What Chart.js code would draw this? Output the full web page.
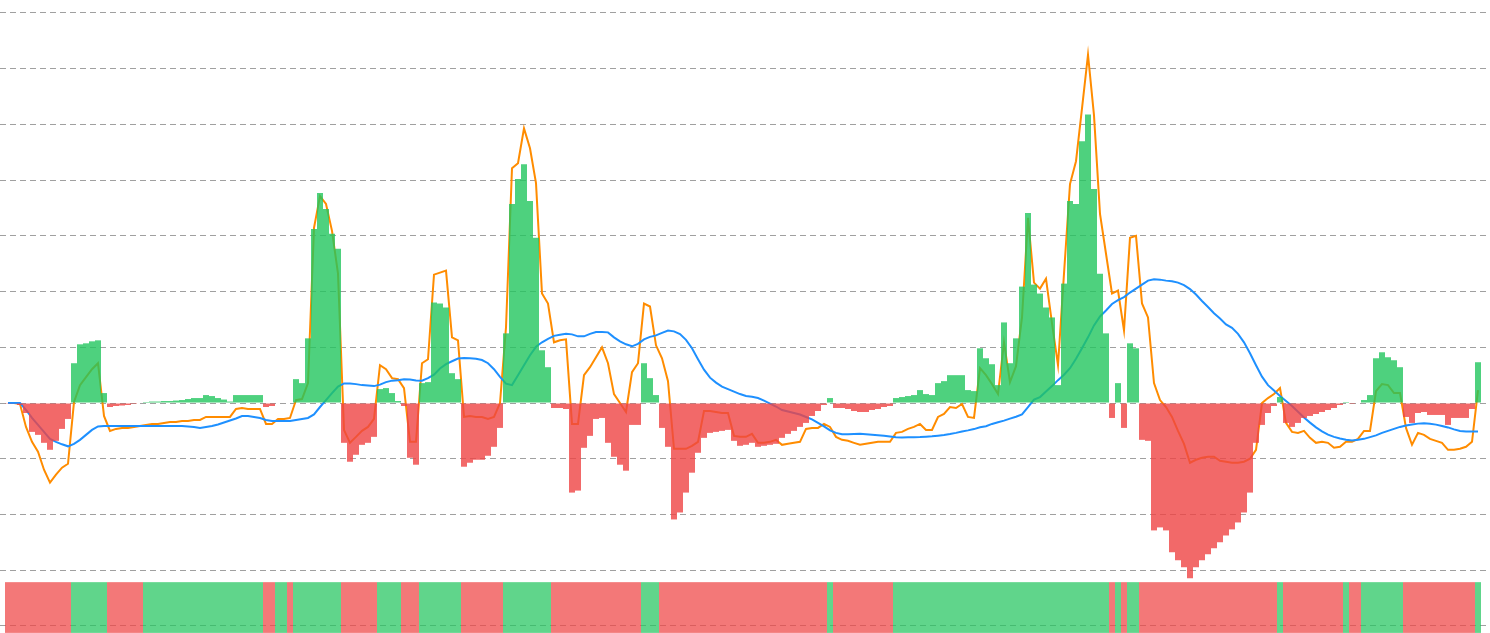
<!DOCTYPE html>
<html>
<head>
<meta charset="utf-8">
<title>MACD</title>
<script src="https://cdn.jsdelivr.net/npm/chart.js@4.4.1/dist/chart.umd.min.js"></script>
<style>
  html, body { margin: 0; padding: 0; background: #fff; }
  #wrap { width: 1490px; height: 633px; position: relative; }
</style>
</head>
<body>
<div id="wrap"><canvas id="chart"></canvas></div>
<script>
(function () {
  'use strict';

  // histogram (macd - signal), one value per bar
  const hist = [
    -0.2, -0.3, -2, -10, -29, -32, -40, -47, -38, -26,
    -16, 40, 59, 60, 62, 63, 10, -4, -3, -2.5,
    -2, -1, -0.5, 1, 1.5, 1.5, 2, 2, 2.5, 3,
    4, 5, 5, 8, 7, 5, 3.5, 1.5, 8, 8,
    8, 8, 8, -4, -3, 0.5, 0.5, -0.5, 24, 20,
    65, 175, 211, 195, 170, 155, -40, -59, -52, -42,
    -40, -34, 14, 15, 10, 2, -3, -55, -62, 20,
    21, 101, 100, 96, 30, 24, -64, -60, -57, -57,
    -53, -44, -25, 70, 200, 225, 240, 203, 166, 53,
    36, -5, -5, -6, -90, -88, -45, -33, -16, -15,
    -40, -54, -62, -68, -22, -22, 40, 25, 8, -25,
    -44, -117, -110, -90, -70, -50, -35, -30, -29, -28,
    -27, -38, -43, -42, -40, -44, -43, -42, -41, -35,
    -31, -28, -24, -20, -13, -8, -2, 5, -5, -5,
    -6, -8, -9, -9, -7, -6, -4, -3, 5, 6,
    7, 8, 13, 9, 8, 20, 22, 28, 28, 28,
    13, 12, 55, 45, 39, 18, 81, 40, 65, 117,
    191, 119, 110, 96, 86, 18, 120, 203, 200, 263,
    290, 215, 130, 70, -15, 20, -25, 60, 55, -37,
    -38, -128, -125, -128, -150, -158, -165, -176, -165, -158,
    -152, -146, -140, -133, -127, -120, -110, -90, -40, -22,
    -10, -3, 6, -20, -24, -20, -15, -13, -11, -9,
    -7, -5, -2, 1, -1, -0.5, 3, 8, 45, 51,
    46, 43, 36, -14, -20, -10, -9, -12, -12, -12,
    -22, -15, -15, -15, -6, 41
  ];

  // fast line (orange)
  const macd = [
    0, 0, -1, -24, -39, -49, -67, -80, -72, -65,
    -61, 1, 18, 26, 34, 40, -13, -28, -26, -25,
    -25, -24, -23, -22, -21, -21, -20, -19, -19, -18,
    -18, -17, -17, -14, -14, -14, -14, -14, -6, -5,
    -6, -6, -6, -21, -21, -16, -16, -15, 3, 4,
    20, 176, 208, 200, 173, 130, -27, -40, -34, -28,
    -24, -16, 38, 34, 25, 24, 15, -39, -39, 40,
    44, 129, 131, 133, 66, 63, -14, -13, -14, -14,
    -16, -14, 0, 76, 236, 241, 276, 256, 221, 110,
    100, 61, 63, 64, -21, -21, 28, 36, 46, 56,
    40, 9, 0, -9, 31, 40, 100, 97, 58, 45,
    22, -46, -46, -46, -43, -39, -8, -8, -9, -10,
    -10, -33, -34, -34, -31, -40, -40, -39, -37, -42,
    -41, -40, -39, -26, -25, -25, -21, -24, -34, -37,
    -38, -40, -42, -41, -40, -39, -39, -39, -30, -29,
    -26, -24, -21, -27, -27, -14, -11, -4, -5, -1,
    -14, -15, 35, 28, 19, 9, 61, 21, 37, 86,
    186, 121, 115, 125, 80, 38, 130, 220, 243, 296,
    350, 289, 190, 150, 110, 113, 73, 166, 168, 100,
    86, 20, 3, -4, -14, -28, -41, -60, -57, -55,
    -54, -54, -58, -59, -60, -60, -59, -56, -47, 0,
    5, 9, 15, -20, -29, -30, -28, -35, -40, -39,
    -40, -45, -44, -39, -39, -36, -28, -28, 12, 19,
    18, 10, 10, -25, -42, -30, -32, -36, -38, -40,
    -47, -47, -46, -44, -39, 13
  ];

  // slow line (blue)
  const signal = [
    0, 0, 0, -7, -15, -22, -29, -36, -39, -41.5,
    -43.5, -41, -37, -32, -27, -23.5, -23, -23, -23, -23,
    -23, -23, -23, -23, -23, -23, -23, -23, -23, -23,
    -23.5, -24, -25, -24, -23, -21.5, -19.5, -17.5, -15.5, -13,
    -13, -14, -15, -17, -18, -18, -18, -18, -17, -16,
    -15, -11.5, -4, 3, 10, 16.5, 19.7, 19.5, 19, 18,
    17.5, 17, 18.5, 21, 22.5, 23, 24, 23.7, 22.7, 22.5,
    25, 28.5, 34.7, 39, 42, 44.7, 45.3, 45, 44.5, 43.2,
    40, 34, 26.3, 19.5, 18, 28, 38, 48, 56.5, 61,
    64.5, 67.5, 68.7, 69.5, 69, 67, 67, 69.5, 71.3, 71.3,
    71, 66, 62, 59, 57, 59.5, 64, 66.5, 68, 70.5,
    72.8, 72, 69.3, 63.5, 55, 44, 33.5, 25.5, 20.5, 16.5,
    14, 11.5, 9, 7, 6.2, 5, 2.5, -0.5, -3.5, -7,
    -8.5, -10, -11.5, -14, -16.5, -20, -23.5, -27.5, -30, -31.3,
    -31.3, -31.2, -31, -31.3, -31.8, -32.3, -33, -33.7, -34.3, -34.7,
    -34.5, -34.3, -34.2, -33.8, -33.4, -32.8, -32.1, -31.2, -30, -28.6,
    -27.5, -26.2, -24.4, -23.3, -21, -19.4, -17.7, -15.7, -13.8, -11.5,
    -4, 3.5, 6, 11.5, 17, 23, 28.5, 35, 44.5, 55,
    66, 78, 87, 93, 99.5, 103.3, 106.5, 111, 115, 119,
    123, 124.4, 124, 123, 122.3, 121, 118.5, 114.5, 109, 102.5,
    96.5, 90.2, 85, 79, 75.5, 69.5, 61, 50, 38, 26.5,
    18, 12.5, 7, 2, -3, -8.7, -14.5, -19.7, -24.5, -28.5,
    -31.8, -34, -35.6, -37, -37.7, -37, -36, -34.3, -32.5, -30,
    -28, -26, -24, -22.5, -21.5, -20.7, -20.3, -20.8, -21.7, -23,
    -24.5, -26.5, -28, -28.7, -28.7, -28.5
  ];

  // horizontal grid values and the value band of the trend strip
  const gridTicks = [-224, -168, -112, -56, 0, 56, 112, 168, 224, 280, 336, 392];
  const stripBand = [-231, -180];

  const UP = 'rgba(34, 197, 94, 0.8)';
  const DOWN = 'rgba(239, 68, 68, 0.8)';
  const STRIP_UP = 'rgba(34, 197, 94, 0.72)';
  const STRIP_DOWN = 'rgba(239, 68, 68, 0.72)';

  function points(arr) {
    return arr.map(function (v, i) { return { x: i, y: v }; });
  }

  const barColors = hist.map(function (v) { return v >= 0 ? UP : DOWN; });
  const stripColors = hist.map(function (v) { return v >= 0 ? STRIP_UP : STRIP_DOWN; });

  // 6px per bar, so bar edges land on whole pixels
  const xMin = -8 / 6;
  const xMax = xMin + 1490 / 6;

  new Chart(document.getElementById('chart'), {
    type: 'bar',
    data: {
      datasets: [
        {
          label: 'trend',
          data: hist.map(function (v, i) { return { x: i, y: stripBand }; }),
          backgroundColor: stripColors,
          borderWidth: 0,
          inflateAmount: 0,
          grouped: false,
          barPercentage: 1,
          categoryPercentage: 1,
          order: 0
        },
        {
          label: 'histogram',
          data: points(hist),
          backgroundColor: barColors,
          borderWidth: 0,
          inflateAmount: 0,
          grouped: false,
          barPercentage: 1,
          categoryPercentage: 1,
          order: 0
        },
        {
          type: 'line',
          label: 'signal',
          data: points(signal),
          borderColor: '#1e90ff',
          borderWidth: 2,
          pointRadius: 0,
          tension: 0,
          order: 1
        },
        {
          type: 'line',
          label: 'macd',
          data: points(macd),
          borderColor: '#ff8c00',
          borderWidth: 2,
          pointRadius: 0,
          tension: 0,
          order: 2
        }
      ]
    },
    options: {
      responsive: true,
      maintainAspectRatio: false,
      animation: false,
      events: [],
      layout: { padding: 0 },
      plugins: { legend: { display: false }, tooltip: { enabled: false } },
      scales: {
        x: {
          type: 'linear',
          min: xMin,
          max: xMax,
          offset: false,
          display: false
        },
        y: {
          type: 'linear',
          min: -231.1,
          max: 405,
          bounds: 'data',
          stacked: false,
          afterBuildTicks: function (scale) {
            scale.ticks = gridTicks.map(function (v) { return { value: v }; });
          },
          ticks: { display: false },
          grid: { color: '#a0a0a0', lineWidth: 1, drawTicks: false },
          border: { display: false, dash: [6, 4] }
        }
      }
    }
  });
})();
</script>
</body>
</html>
